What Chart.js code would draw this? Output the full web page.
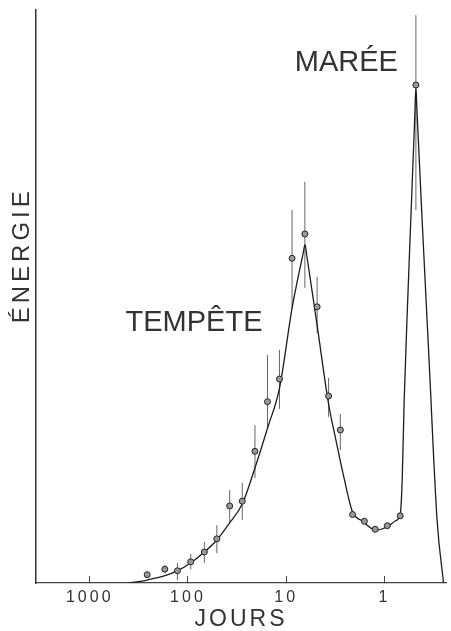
<!DOCTYPE html>
<html>
<head>
<meta charset="utf-8">
<script src="https://cdn.jsdelivr.net/npm/chart.js@4.4.1/dist/chart.umd.min.js"></script>
<style>
  html, body { margin: 0; padding: 0; background: #fff; }
  canvas { display: block; }
</style>
</head>
<body>
<canvas id="spectre" width="451" height="631"></canvas>
<script>
// measured points: period in days, energy (arbitrary units), error bar ends
const pointDays = [260, 172, 128, 93.7, 68.1, 50.8, 37.6, 28.0, 20.8, 15.5, 11.7,
  8.71, 6.45, 4.84, 3.70, 2.81, 2.11, 1.60, 1.24, 0.934, 0.690, 0.478];
const pointEnergy = [1.45, 2.41, 2.13, 3.70, 5.41, 7.71, 13.44, 14.28, 22.98, 31.64, 35.60,
  56.67, 60.91, 48.20, 32.64, 26.70, 11.95, 10.77, 9.37, 10.00, 11.73, 86.91];
const errLow = [0.9, 1.7, 0.5, 2.4, 3.5, 5.2, 10.5, 11.0, 18.3, 27.0, 30.4,
  48.0, 51.5, 43.6, 29.0, 23.2, null, null, null, null, null, 65.1];
const errHigh = [2.0, 3.1, 3.5, 5.1, 7.2, 10.1, 16.2, 17.5, 27.6, 39.8, 40.7,
  65.1, 70.0, 53.4, 35.8, 29.5, null, null, null, null, null, 99.1];

// fitted spectrum curve
const curveDays = [402.6, 260.3, 171.0, 127.5, 93.2, 68.4, 50.8, 37.9, 28.0, 20.8, 15.47,
  11.69, 8.71, 6.71, 6.43, 6.18, 4.82, 3.70, 3.07, 2.55, 2.114, 1.675, 1.236, 0.935,
  0.775, 0.690, 0.659, 0.629, 0.579, 0.534, 0.490, 0.478, 0.467, 0.413, 0.351, 0.291, 0.250];
const curveEnergy = [0, 0.52, 1.27, 2.15, 3.54, 5.36, 7.50, 10.42, 13.79, 20.07, 27.05,
  34.03, 47.99, 57.59, 59.07, 57.24, 44.73, 31.24, 24.43, 17.98, 12.44, 10.82, 9.25, 9.77,
  10.82, 12.04, 17.98, 31.94, 49.39, 65.10, 81.68, 86.39, 82.72, 63.35, 38.92, 10.99, 0];

const tickDays = [1000, 100, 10, 1];
const tickLabels = ["1000", "100", "10", "1"];

const family = "'Liberation Sans', Arial, sans-serif";
const ink = "#333";

const points = pointDays.map((d, i) => ({ x: d, y: pointEnergy[i] }));
const curve = curveDays.map((d, i) => ({ x: d, y: curveEnergy[i] }));
const bars = [];
pointDays.forEach((d, i) => {
  if (errLow[i] == null) return;
  bars.push({ x: d, y: errLow[i] }, { x: d, y: errHigh[i] }, { x: d, y: null });
});

// spaced lettering for axis texts + the two labels in the plot
const lettering = {
  id: "lettering",
  beforeDraw(chart) { chart.ctx.letterSpacing = "3px"; },
  beforeDatasetsDraw(chart) { chart.ctx.letterSpacing = "0px"; },
  afterDraw(chart) {
    const { ctx, chartArea, scales: { x, y } } = chart;
    ctx.save();
    ctx.fillStyle = ink;
    ctx.letterSpacing = "0px";
    ctx.textAlign = "left";
    ctx.textBaseline = "alphabetic";
    ctx.font = "29px " + family;
    ctx.fillText("TEMPÊTE", x.getPixelForValue(432), y.getPixelForValue(44));
    ctx.fillText("MARÉE", x.getPixelForValue(8.18), y.getPixelForValue(89.35));

    ctx.translate(chartArea.left - 14, y.getPixelForValue(57.2));
    ctx.rotate(-Math.PI / 2);
    ctx.textAlign = "center";
    ctx.textBaseline = "middle";
    ctx.letterSpacing = "4px";
    ctx.font = "24px " + family;
    ctx.fillText("ÉNERGIE", 0, 0);
    ctx.restore();
  }
};

new Chart(document.getElementById("spectre"), {
  type: "line",
  data: {
    datasets: [
      {
        data: points,
        showLine: false,
        pointRadius: 3,
        pointBackgroundColor: "#9a9a9a",
        pointBorderColor: "#222",
        pointBorderWidth: 1,
      },
      {
        data: curve,
        borderColor: "#1c1c1c",
        borderWidth: 1.3,
        pointRadius: 0,
        cubicInterpolationMode: "monotone",
      },
      {
        data: bars,
        borderColor: "#666",
        borderWidth: 1,
        pointRadius: 0,
        tension: 0,
        spanGaps: false,
      },
    ],
  },
  options: {
    responsive: false,
    animation: false,
    events: [],
    devicePixelRatio: 1,
    layout: { padding: { top: 10, right: 4, left: 0, bottom: 0 } },
    plugins: { legend: { display: false }, tooltip: { enabled: false } },
    scales: {
      x: {
        type: "logarithmic",
        reverse: true,
        min: 0.236,
        max: 3524,
        afterBuildTicks: (s) => { s.ticks = tickDays.map((v) => ({ value: v })); },
        afterFit: (s) => { s.height = 48; },
        grid: { display: true, drawOnChartArea: false, drawTicks: true, tickLength: -7, color: "#444", lineWidth: 1 },
        border: { display: true, color: "#444", width: 1.2 },
        ticks: {
          autoSkip: false,
          maxRotation: 0,
          padding: 12,
          color: ink,
          font: { family, size: 16 },
          callback: (v) => tickLabels[tickDays.indexOf(v)] ?? "",
        },
        title: {
          display: true,
          text: "JOURS",
          color: ink,
          font: { family, size: 23, lineHeight: 1 },
          padding: { top: 0, bottom: 0 },
        },
      },
      y: {
        min: 0,
        max: 100,
        afterFit: (s) => { s.width = 36; },
        grid: { display: false },
        border: { display: true, color: "#333", width: 1.5 },
        ticks: { display: false },
      },
    },
  },
  plugins: [lettering],
});
</script>
</body>
</html>
